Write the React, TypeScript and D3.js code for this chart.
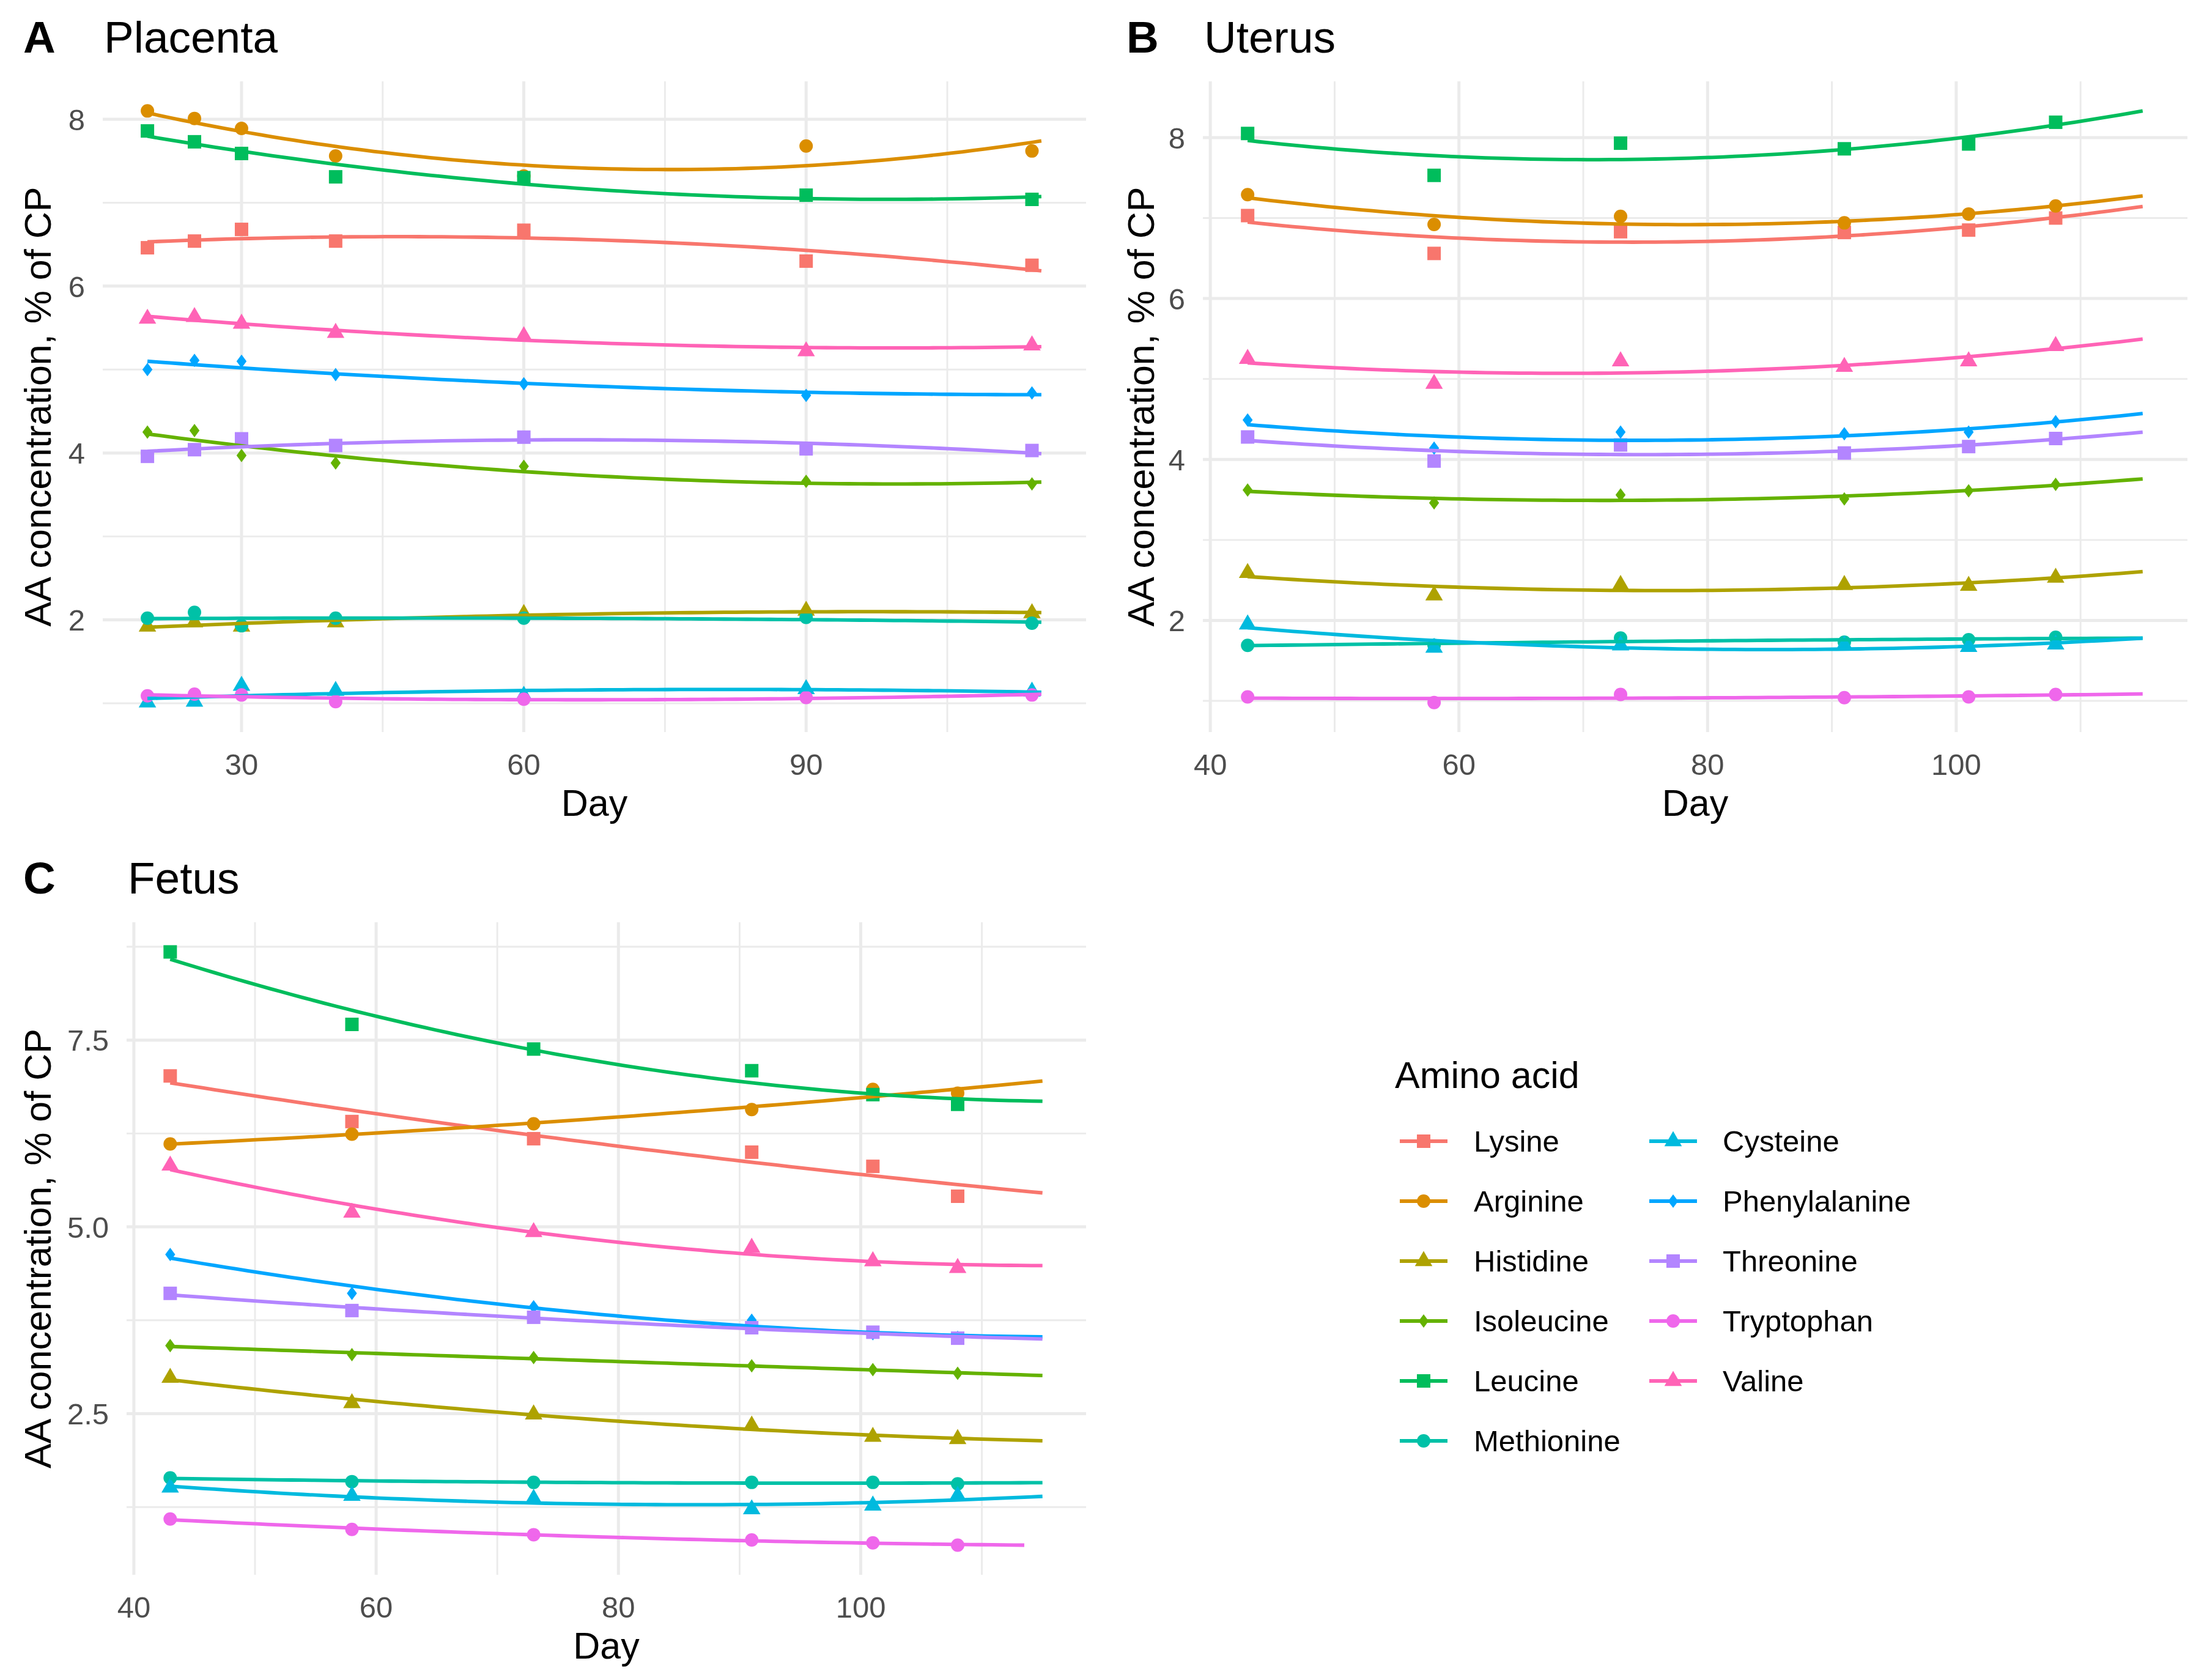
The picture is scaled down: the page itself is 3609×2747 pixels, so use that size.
import { useEffect, useRef } from 'react'
import * as d3 from 'd3'

// Amino acids in legend order, ggplot hue palette and shapes
const aminoAcids = ['Lysine', 'Arginine', 'Histidine', 'Isoleucine', 'Leucine', 'Methionine', 'Cysteine', 'Phenylalanine', 'Threonine', 'Tryptophan', 'Valine']
const aaColors = ['#F8766D', '#DB8E00', '#AEA200', '#64B200', '#00BD5C', '#00C1A7', '#00BADE', '#00A6FF', '#B385FF', '#EF67EB', '#FF63B6']
const aaShapes = ['square', 'circle', 'triangle', 'diamond', 'square', 'circle', 'triangle', 'diamond', 'square', 'circle', 'triangle']

// Placenta
const placentaDays = [20, 25, 30, 40, 60, 90, 114]
const placentaValues = [
  [6.46, 6.54, 6.68, 6.54, 6.67, 6.30, 6.25],
  [8.10, 8.01, 7.89, 7.56, 7.32, 7.68, 7.62],
  [1.92, 1.97, 1.92, 1.97, 2.07, 2.11, 2.08],
  [4.25, 4.27, 3.97, 3.88, 3.84, 3.66, 3.63],
  [7.86, 7.73, 7.59, 7.31, 7.30, 7.09, 7.04],
  [2.02, 2.09, 1.93, 2.02, 2.02, 2.03, 1.96],
  [1.01, 1.02, 1.21, 1.15, 1.09, 1.17, 1.14],
  [5.00, 5.11, 5.10, 4.94, 4.83, 4.69, 4.72],
  [3.96, 4.04, 4.17, 4.09, 4.19, 4.05, 4.03],
  [1.09, 1.11, 1.10, 1.02, 1.05, 1.07, 1.10],
  [5.61, 5.63, 5.55, 5.44, 5.40, 5.22, 5.29]
]
const placentaFitEnd = [115, 115, 115, 115, 115, 115, 115, 115, 115, 115, 115]
const placentaXTicks = [30, 60, 90]
const placentaYTicks = [2, 4, 6, 8]
const placentaYLabels = ['2', '4', '6', '8']

// Uterus
const uterusDays = [43, 58, 73, 91, 101, 108]
const uterusValues = [
  [7.03, 6.56, 6.83, 6.82, 6.85, 7.00],
  [7.29, 6.92, 7.02, 6.94, 7.05, 7.15],
  [2.59, 2.31, 2.44, 2.44, 2.43, 2.53],
  [3.62, 3.46, 3.56, 3.51, 3.61, 3.69],
  [8.05, 7.53, 7.93, 7.86, 7.92, 8.19],
  [1.69, 1.69, 1.78, 1.73, 1.76, 1.79],
  [1.95, 1.66, 1.69, 1.69, 1.67, 1.70],
  [4.49, 4.14, 4.34, 4.32, 4.34, 4.47],
  [4.28, 3.98, 4.18, 4.08, 4.16, 4.26],
  [1.05, 0.98, 1.08, 1.04, 1.05, 1.08],
  [5.25, 4.94, 5.22, 5.15, 5.22, 5.41]
]
const uterusFitEnd = [115, 115, 115, 115, 115, 115, 115, 115, 115, 115, 115]
const uterusXTicks = [40, 60, 80, 100]
const uterusYTicks = [2, 4, 6, 8]
const uterusYLabels = ['2', '4', '6', '8']

// Fetus
const fetusDays = [43, 58, 73, 91, 101, 108]
const fetusValues = [
  [7.02, 6.41, 6.18, 6.00, 5.81, 5.41],
  [6.11, 6.24, 6.38, 6.57, 6.84, 6.79],
  [2.98, 2.64, 2.49, 2.34, 2.19, 2.16],
  [3.41, 3.29, 3.25, 3.14, 3.09, 3.04],
  [8.68, 7.71, 7.38, 7.09, 6.77, 6.64],
  [1.64, 1.59, 1.58, 1.58, 1.58, 1.56],
  [1.51, 1.40, 1.36, 1.22, 1.27, 1.40],
  [4.63, 4.11, 3.93, 3.75, 3.57, 3.52],
  [4.11, 3.88, 3.79, 3.65, 3.59, 3.51],
  [1.09, 0.95, 0.88, 0.81, 0.77, 0.74],
  [5.82, 5.19, 4.93, 4.72, 4.54, 4.45]
]
const fetusFitEnd = [115, 115, 115, 115, 115, 115, 115, 115, 115, 113.5, 115]
const fetusXTicks = [40, 60, 80, 100]
const fetusYTicks = [2.5, 5.0, 7.5]
const fetusYLabels = ['2.5', '5.0', '7.5']

const W = 3609
const H = 2747
const FONT = '"Liberation Sans", Arial, Helvetica, sans-serif'
const GRID = '#EBEBEB'

// quadratic least squares, like geom_smooth(method = lm, y ~ poly(x, 2))
function quadFit(xs: number[], ys: number[]) {
  const m = d3.mean(xs) as number
  const t = xs.map(x => x - m)
  const s = [0, 1, 2, 3, 4].map(p => d3.sum(t, v => v ** p))
  const r = [0, 1, 2].map(p => d3.sum(t, (v, i) => ys[i] * v ** p))
  const det3 = (a: number[][]) =>
    a[0][0] * (a[1][1] * a[2][2] - a[1][2] * a[2][1]) -
    a[0][1] * (a[1][0] * a[2][2] - a[1][2] * a[2][0]) +
    a[0][2] * (a[1][0] * a[2][1] - a[1][1] * a[2][0])
  const A = [[s[0], s[1], s[2]], [s[1], s[2], s[3]], [s[2], s[3], s[4]]]
  const D = det3(A)
  const coef = [0, 1, 2].map(k => det3(A.map((row, i) => row.map((v, j) => (j === k ? r[i] : v)))) / D)
  return (x: number) => coef[0] + coef[1] * (x - m) + coef[2] * (x - m) ** 2
}

function symbolPath(shape: string, cx: number, cy: number) {
  if (shape === 'square') {
    const h = 11
    return `M${cx - h},${cy - h}h${2 * h}v${2 * h}h${-2 * h}Z`
  }
  if (shape === 'circle') {
    const r = 11
    return `M${cx - r},${cy}a${r},${r} 0 1,0 ${2 * r},0a${r},${r} 0 1,0 ${-2 * r},0Z`
  }
  if (shape === 'triangle') {
    return `M${cx},${cy - 16.4}L${cx + 14.3},${cy + 8.2}L${cx - 14.3},${cy + 8.2}Z`
  }
  return `M${cx},${cy - 11}L${cx + 8.2},${cy}L${cx},${cy + 11}L${cx - 8.2},${cy}Z`
}

const panels = [
  { tag: 'A', title: 'Placenta', days: placentaDays, values: placentaValues, fitEnd: placentaFitEnd, xTicks: placentaXTicks, yTicks: placentaYTicks, yLabels: placentaYLabels, left: 168, right: 1776, top: 133, bottom: 1197, colX: 0, rowY: 0 },
  { tag: 'B', title: 'Uterus', days: uterusDays, values: uterusValues, fitEnd: uterusFitEnd, xTicks: uterusXTicks, yTicks: uterusYTicks, yLabels: uterusYLabels, left: 1967, right: 3577, top: 133, bottom: 1197, colX: 1804, rowY: 0 },
  { tag: 'C', title: 'Fetus', days: fetusDays, values: fetusValues, fitEnd: fetusFitEnd, xTicks: fetusXTicks, yTicks: fetusYTicks, yLabels: fetusYLabels, left: 207, right: 1776, top: 1508, bottom: 2575, colX: 0, rowY: 1375 }
]

function expand([a, b]: number[]) {
  const d = (b - a) * 0.05
  return [a - d, b + d]
}

function minorBreaks(ticks: number[], domain: number[]) {
  const step = ticks[1] - ticks[0]
  const out = [ticks[0] - step / 2, ...ticks.map(t => t + step / 2)]
  return out.filter(v => v > domain[0] && v < domain[1])
}

export default function App() {
  const svgRef = useRef<SVGSVGElement>(null)

  useEffect(() => {
    document.body.style.margin = '0'
    if (!svgRef.current) return
    const svg = d3.select(svgRef.current)
    svg.selectAll('*').remove()
    svg.append('rect').attr('width', W).attr('height', H).attr('fill', '#fff')

    panels.forEach(p => {
      const g = svg.append('g')

      // fitted curves, sampled like stat_smooth (n = 80)
      const fits = p.values.map((vals, i) => {
        const f = quadFit(p.days, vals)
        const x0 = p.days[0]
        const x1 = p.fitEnd[i]
        return d3.range(80).map(k => {
          const x = x0 + ((x1 - x0) * k) / 79
          return [x, f(x)] as [number, number]
        })
      })

      const xExt = [d3.min(p.days) as number, Math.max(d3.max(p.days) as number, d3.max(p.fitEnd) as number)]
      const allY = [...p.values.flat(), ...fits.flat().map(d => d[1])]
      const yExt = d3.extent(allY) as [number, number]
      const xDom = expand(xExt)
      const yDom = expand(yExt)

      const x = d3.scaleLinear().domain(xDom).range([p.left, p.right])
      const y = d3.scaleLinear().domain(yDom).range([p.bottom, p.top])

      // grid
      const grid = g.append('g')
      minorBreaks(p.yTicks, yDom).forEach(v => {
        grid.append('line').attr('x1', p.left).attr('x2', p.right).attr('y1', y(v)).attr('y2', y(v))
          .attr('stroke', GRID).attr('stroke-width', 2.9)
      })
      minorBreaks(p.xTicks, xDom).forEach(v => {
        grid.append('line').attr('y1', p.top).attr('y2', p.bottom).attr('x1', x(v)).attr('x2', x(v))
          .attr('stroke', GRID).attr('stroke-width', 2.9)
      })
      p.yTicks.forEach(v => {
        grid.append('line').attr('x1', p.left).attr('x2', p.right).attr('y1', y(v)).attr('y2', y(v))
          .attr('stroke', GRID).attr('stroke-width', 5)
      })
      p.xTicks.forEach(v => {
        grid.append('line').attr('y1', p.top).attr('y2', p.bottom).attr('x1', x(v)).attr('x2', x(v))
          .attr('stroke', GRID).attr('stroke-width', 5)
      })

      // points
      p.values.forEach((vals, i) => {
        g.append('g').selectAll('path').data(vals).enter().append('path')
          .attr('d', (v, j) => symbolPath(aaShapes[i], x(p.days[j]), y(v)))
          .attr('fill', aaColors[i])
      })

      // smooth lines
      const line = d3.line<[number, number]>().x(d => x(d[0])).y(d => y(d[1]))
      fits.forEach((pts, i) => {
        g.append('path').attr('d', line(pts)).attr('fill', 'none')
          .attr('stroke', aaColors[i]).attr('stroke-width', 5.8)
      })

      // tick labels
      p.yTicks.forEach((v, i) => {
        g.append('text').attr('x', p.left - 29).attr('y', y(v)).attr('dy', '0.36em')
          .attr('text-anchor', 'end').attr('font-family', FONT).attr('font-size', 49)
          .attr('fill', '#4D4D4D').text(p.yLabels[i])
      })
      p.xTicks.forEach(v => {
        g.append('text').attr('x', x(v)).attr('y', p.bottom + 70)
          .attr('text-anchor', 'middle').attr('font-family', FONT).attr('font-size', 49)
          .attr('fill', '#4D4D4D').text(String(v))
      })

      // axis titles
      g.append('text').attr('x', (p.left + p.right) / 2).attr('y', p.bottom + 137)
        .attr('text-anchor', 'middle').attr('font-family', FONT).attr('font-size', 61)
        .attr('fill', '#000').text('Day')
      g.append('text')
        .attr('transform', `translate(${p.colX + 83},${(p.top + p.bottom) / 2}) rotate(-90)`)
        .attr('text-anchor', 'middle').attr('font-family', FONT).attr('font-size', 61)
        .attr('fill', '#000').text('AA concentration, % of CP')

      // tag and title
      g.append('text').attr('x', p.colX + 38).attr('y', p.rowY + 86)
        .attr('font-family', FONT).attr('font-size', 73).attr('font-weight', 'bold')
        .attr('fill', '#000').text(p.tag)
      g.append('text').attr('x', p.left + 2).attr('y', p.rowY + 86)
        .attr('font-family', FONT).attr('font-size', 73)
        .attr('fill', '#000').text(p.title)
    })

    // legend
    const lg = svg.append('g')
    lg.append('text').attr('x', 2281).attr('y', 1779)
      .attr('font-family', FONT).attr('font-size', 61).attr('fill', '#000').text('Amino acid')
    aminoAcids.forEach((name, i) => {
      const col = i < 6 ? 0 : 1
      const row = i < 6 ? i : i - 6
      const cy = 1866 + row * 98
      const kx = col === 0 ? 2289 : 2697
      const tx = col === 0 ? 2410 : 2817
      lg.append('line').attr('x1', kx).attr('x2', kx + 78).attr('y1', cy).attr('y2', cy)
        .attr('stroke', aaColors[i]).attr('stroke-width', 5.8)
      lg.append('path').attr('d', symbolPath(aaShapes[i], kx + 39, cy)).attr('fill', aaColors[i])
      lg.append('text').attr('x', tx).attr('y', cy + 17)
        .attr('font-family', FONT).attr('font-size', 49).attr('fill', '#000').text(name)
    })
  }, [])

  return <svg ref={svgRef} width={W} height={H} style={{ display: 'block' }} />
}
